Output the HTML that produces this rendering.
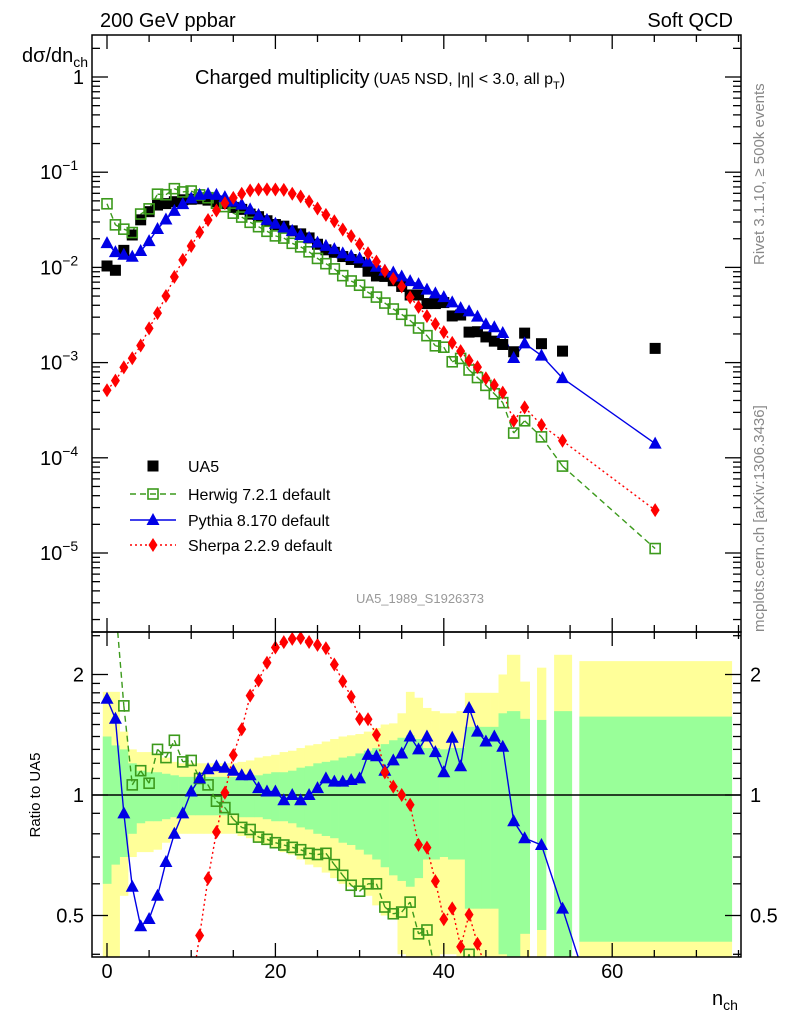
<!DOCTYPE html>
<html><head><meta charset="utf-8"><style>
html,body{margin:0;padding:0;background:#fff;overflow:hidden;width:786px;height:1024px}
svg{display:block;font-family:"Liberation Sans",sans-serif}
</style></head><body>
<svg id="c" width="786" height="1024" viewBox="0 0 786 1024" xmlns="http://www.w3.org/2000/svg">
<defs>
<clipPath id="clipMain"><rect x="92" y="35" width="649" height="597"/></clipPath>
<clipPath id="clipRatio"><rect x="92" y="632" width="649" height="325"/></clipPath>
</defs>
<g id="bands" clip-path="url(#clipRatio)"></g>
<line x1="92" y1="795" x2="741" y2="795" stroke="#000" stroke-width="1.5"/>
<g id="mainMarks" clip-path="url(#clipMain)"></g>
<g id="ratioMarks" clip-path="url(#clipRatio)"></g>
<g id="axes"></g>
<rect x="92" y="35" width="649" height="597" fill="none" stroke="#000" stroke-width="1.5"/>
<rect x="92" y="632" width="649" height="325" fill="none" stroke="#000" stroke-width="1.5"/>
<text x="100" y="27" font-size="20">200 GeV ppbar</text>
<text x="733" y="27" font-size="20" text-anchor="end">Soft QCD</text>
<text x="22" y="62" font-size="20">dσ/dn<tspan font-size="14" dy="5">ch</tspan></text>
<text x="195" y="84" font-size="20">Charged multiplicity<tspan font-size="16" dx="4">(UA5 NSD, |η| &lt; 3.0, all p</tspan><tspan font-size="11" dy="5">T</tspan><tspan font-size="16" dy="-5">)</tspan></text>
<text x="420" y="603" font-size="13" fill="#999" text-anchor="middle">UA5_1989_S1926373</text>
<text transform="translate(764,265) rotate(-90)" font-size="15" fill="#888">Rivet 3.1.10, ≥ 500k events</text>
<text transform="translate(764,632) rotate(-90)" font-size="15" fill="#888">mcplots.cern.ch [arXiv:1306.3436]</text>
<text transform="translate(40,795) rotate(-90)" font-size="15" text-anchor="middle">Ratio to UA5</text>
<text x="712" y="1005" font-size="20">n<tspan font-size="14" dy="5">ch</tspan></text>
<g id="legend"></g>
</svg>
<script>
const nVals=[0,1,2,3,4,5,6,7,8,9,10,11,12,13,14,15,16,17,18,19,20,21,22,23,24,25,26,27,28,29,30,31,32,33,34,35,36,37,38,39,40,41,42,43,44,45,46,47,48.3,49.6,51.6,54.1,65.1];
const extraBinLo=[47.5,49.05,51.07,53.1,56.1];
const extraBinHi=[49.05,50.2,52.14,55.2,74.2];
const ua5=[1.035e-2,9.33e-3,1.51e-2,2.19e-2,3.16e-2,3.85e-2,4.52e-2,4.68e-2,4.90e-2,5.13e-2,5.20e-2,5.25e-2,5.09e-2,4.90e-2,4.68e-2,4.27e-2,4.07e-2,3.63e-2,3.41e-2,3.09e-2,2.82e-2,2.71e-2,2.42e-2,2.25e-2,2.04e-2,1.75e-2,1.53e-2,1.44e-2,1.30e-2,1.21e-2,1.13e-2,9.12e-3,8.13e-3,8.04e-3,7.24e-3,6.31e-3,5.13e-3,5.13e-3,4.17e-3,4.17e-3,4.27e-3,3.09e-3,3.16e-3,2.09e-3,2.11e-3,1.86e-3,1.68e-3,1.55e-3,1.30e-3,2.04e-3,1.58e-3,1.32e-3,1.41e-3];
const ua5Stat=[.40,.33,.30,.20,.15,.14,.14,.13,.12,.11,.11,.11,.11,.11,.11,.11,.12,.12,.12,.13,.14,.14,.15,.17,.18,.20,.21,.22,.24,.25,.27,.29,.31,.34,.37,.39,.41,.38,.31,.31,.30,.31,.31,.48,.48,.48,.48,.60,.62,.55,.54,.62,.57];
const ua5Tot=[.81,.81,.44,.30,.28,.28,.27,.24,.21,.20,.20,.20,.20,.20,.20,.20,.21,.22,.24,.25,.26,.28,.29,.31,.33,.34,.36,.38,.40,.41,.42,.44,.47,.50,.51,.60,.81,.75,.65,.62,.60,.60,.62,.80,.80,.80,.80,1.0,1.24,.92,1.08,1.24,1.16];
const herwigRatio=[4.5,3.0,1.67,1.06,1.15,1.07,1.30,1.24,1.37,1.21,1.22,1.10,1.06,0.965,0.93,0.87,0.83,0.82,0.785,0.775,0.76,0.75,0.74,0.73,0.715,0.71,0.715,0.67,0.63,0.595,0.575,0.60,0.60,0.525,0.505,0.51,0.54,0.45,0.46,0.36,0.34,0.33,0.35,0.40,0.33,0.31,0.28,0.245,0.14,0.12,0.105,0.062,0.0079];
const pythiaRatio=[1.74,1.55,0.90,0.59,0.47,0.49,0.56,0.68,0.80,0.90,1.02,1.10,1.16,1.18,1.17,1.15,1.12,1.12,1.04,1.02,1.02,0.97,1.00,0.97,1.00,1.04,1.10,1.08,1.08,1.09,1.10,1.26,1.25,1.15,1.22,1.27,1.40,1.30,1.40,1.28,1.14,1.39,1.18,1.65,1.44,1.36,1.40,1.32,0.86,0.78,0.75,0.52,0.10];
const sherpa=[5.13e-4,6.46e-4,8.91e-4,1.11e-3,1.51e-3,2.29e-3,3.31e-3,5.01e-3,7.94e-3,1.20e-2,1.68e-2,2.34e-2,3.15e-2,3.96e-2,4.74e-2,5.37e-2,5.94e-2,6.43e-2,6.59e-2,6.61e-2,6.59e-2,6.53e-2,5.94e-2,5.55e-2,4.92e-2,4.15e-2,3.56e-2,3.05e-2,2.50e-2,2.13e-2,1.75e-2,1.41e-2,1.15e-2,9.16e-3,7.60e-3,6.31e-3,4.85e-3,3.85e-3,3.08e-3,2.54e-3,2.09e-3,1.61e-3,1.32e-3,1.05e-3,8.97e-4,6.84e-4,5.82e-4,4.84e-4,2.45e-4,3.39e-4,2.21e-4,1.51e-4,2.82e-5];
const xTicks=[0,20,40,60];
const yMainTicks=[0,-1,-2,-3,-4,-5];
const yRatioTicks=[0.5,1,2];

const NS="http://www.w3.org/2000/svg";
const X=n=>107+8.42*n;
const YM=v=>77-95.2*Math.log10(v);
const YR=r=>795-120.5*Math.log2(r);
const HG="#3c9a1c",PB="#0000e6",SR="#ff0000";
function mk(tag,attrs,parent){const e=document.createElementNS(NS,tag);for(const k in attrs)e.setAttribute(k,attrs[k]);parent.appendChild(e);return e;}
const bands=document.getElementById('bands'),mainG=document.getElementById('mainMarks'),ratG=document.getElementById('ratioMarks'),axes=document.getElementById('axes'),leg=document.getElementById('legend');
function binLo(i){return i<48?nVals[i]-0.5:extraBinLo[i-48];}
function binHi(i){return i<48?nVals[i]+0.5:extraBinHi[i-48];}
[[ua5Tot,'#ffff99','band-total'],[ua5Stat,'#99ff99','band-stat']].forEach(([arr,col,nm])=>{
  arr.forEach((e,i)=>{
    const top=Math.max(632,YR(1+e)),bot=(1-e)>0.05?Math.min(958,YR(1-e)):958;
    const r=mk('rect',{x:X(binLo(i)),y:top,width:X(binHi(i))-X(binLo(i))+0.3,height:Math.max(0,bot-top),fill:col},bands);
    
    
  });
});
const herwig=ua5.map((v,i)=>v*herwigRatio[i]);
const pythia=ua5.map((v,i)=>v*pythiaRatio[i]);
const sherpaRatio=sherpa.map((v,i)=>v/ua5[i]);
// line with segment clipping to [ymin,ymax]
function line(g,vals,yf,col,dash,nm,ymin,ymax){
  let d='';
  for(let i=0;i<vals.length-1;i++){
    let x1=X(nVals[i]),y1=yf(vals[i]),x2=X(nVals[i+1]),y2=yf(vals[i+1]);
    if((y1<ymin&&y2<ymin)||(y1>ymax&&y2>ymax))continue;
    const cl=(xa,ya,xb,yb)=>{
      if(ya<ymin){xa=xa+(xb-xa)*(ymin-ya)/(yb-ya);ya=ymin;}
      if(ya>ymax){xa=xa+(xb-xa)*(ymax-ya)/(yb-ya);ya=ymax;}
      return [xa,ya];
    };
    const [ax,ay]=cl(x1,y1,x2,y2),[bx,by]=cl(x2,y2,x1,y1);
    d+=`M${ax.toFixed(2)},${ay.toFixed(2)}L${bx.toFixed(2)},${by.toFixed(2)}`;
  }
  const p=mk('path',{d:d,fill:'none',stroke:col,'stroke-width':1.4,'stroke-dasharray':dash},g);
  
  
}
function marker(g,type,x,y,nm,ymin,ymax){
  if(ymin!==undefined&&(y<ymin-10||y>ymax+10))return;
  let e;
  if(type==='sq')e=mk('rect',{x:x-5.5,y:y-5.5,width:11,height:11,fill:'#000'},g);
  else if(type==='osq')e=mk('rect',{x:x-5,y:y-5,width:10,height:10,fill:'none',stroke:HG,'stroke-width':1.6},g);
  else if(type==='tri')e=mk('polygon',{points:`${x},${y-7} ${x-6.5},${y+5} ${x+6.5},${y+5}`,fill:PB},g);
  else e=mk('polygon',{points:`${x},${y-7} ${x-4.5},${y} ${x},${y+7} ${x+4.5},${y}`,fill:SR},g);
  
  
}
line(mainG,herwig,YM,HG,'6,4','herwig-line',35,632);
line(mainG,pythia,YM,PB,'','pythia-line',35,632);
line(mainG,sherpa,YM,SR,'2,3','sherpa-line',35,632);
ua5.forEach((v,i)=>marker(mainG,'sq',X(nVals[i]),YM(v),'ua5-point',35,632));
herwig.forEach((v,i)=>marker(mainG,'osq',X(nVals[i]),YM(v),'herwig-point',35,632));
pythia.forEach((v,i)=>marker(mainG,'tri',X(nVals[i]),YM(v),'pythia-point',35,632));
sherpa.forEach((v,i)=>marker(mainG,'dia',X(nVals[i]),YM(v),'sherpa-point',35,632));
line(ratG,herwigRatio,YR,HG,'6,4','herwig-ratio-line',632,957);
line(ratG,pythiaRatio,YR,PB,'','pythia-ratio-line',632,957);
line(ratG,sherpaRatio,YR,SR,'2,3','sherpa-ratio-line',632,957);
herwigRatio.forEach((v,i)=>marker(ratG,'osq',X(nVals[i]),YR(v),'herwig-ratio-point',632,957));
pythiaRatio.forEach((v,i)=>marker(ratG,'tri',X(nVals[i]),YR(v),'pythia-ratio-point',632,957));
sherpaRatio.forEach((v,i)=>marker(ratG,'dia',X(nVals[i]),YR(v),'sherpa-ratio-point',632,957));
for(let n=0;n<=75;n+=5){
  const big=n%20===0,x=X(n);
  [[632,632-(big?14:7)],[632,632+(big?14:7)],[957,957-(big?14:7)],[35,35+(big?14:7)]].forEach(([a,b])=>{
    const t=mk('line',{x1:x,y1:a,x2:x,y2:b,stroke:'#000','stroke-width':1.3},axes);
    
    
  });
}
xTicks.forEach(n=>{
  const t=mk('text',{x:X(n),y:978,'font-size':20,'text-anchor':'middle'},axes);t.textContent=n;
  
  
});
for(let d=0;d>=-6;d--){
  for(let m=1;m<10;m++){
    const v=m*Math.pow(10,d),y=YM(v);if(y<35||y>632)continue;
    const len=m===1?16:8;
    [[92,92+len],[741,741-len]].forEach(([a,b])=>{
      const t=mk('line',{x1:a,y1:y,x2:b,y2:y,stroke:'#000','stroke-width':1.3},axes);
      
      
    });
  }
}
yMainTicks.forEach(d=>{
  const y=YM(Math.pow(10,d));
  const t=mk('text',{x:d===0?84:40,y:y+7,'font-size':20,'text-anchor':d===0?'end':'start'},axes);
  if(d===0)t.textContent='1';
  else{t.textContent='10';const s=mk('tspan',{dy:-9,'font-size':14},t);s.textContent='−'+(-d);}
  
  
});
[0.4,0.5,0.6,0.7,0.8,0.9,1,1.1,1.2,1.3,1.4,1.5,1.6,1.7,1.8,1.9,2,2.5].forEach(r=>{
  const y=YR(r);if(y<632||y>957)return;
  const big=(r===0.5||r===1||r===2),len=big?16:8;
  [[92,92+len],[741,741-len]].forEach(([a,b])=>{
    const t=mk('line',{x1:a,y1:y,x2:b,y2:y,stroke:'#000','stroke-width':1.3},axes);
    
    
  });
});
yRatioTicks.forEach(r=>{
  const y=YR(r);
  const t=mk('text',{x:84,y:y+7,'font-size':20,'text-anchor':'end'},axes);t.textContent=r;
  
  
  const t2=mk('text',{x:750,y:y+7,'font-size':20},axes);t2.textContent=r;
  
  
});
const legItems=[['sq','','','UA5',466],['osq',HG,'6,4','Herwig 7.2.1 default',494],['tri',PB,'','Pythia 8.170 default',520],['dia',SR,'2,3','Sherpa 2.2.9 default',545]];
legItems.forEach(([tp,col,dash,label,y])=>{
  const g=mk('g',{},leg);
  
  
  if(col)mk('line',{x1:130,y1:y,x2:176,y2:y,stroke:col,'stroke-width':1.4,'stroke-dasharray':dash},g);
  marker(g,tp,153,y,'legend-marker');
  const t=mk('text',{x:188,y:y+6,'font-size':16},g);t.textContent=label;
});
</script>
</body></html>
